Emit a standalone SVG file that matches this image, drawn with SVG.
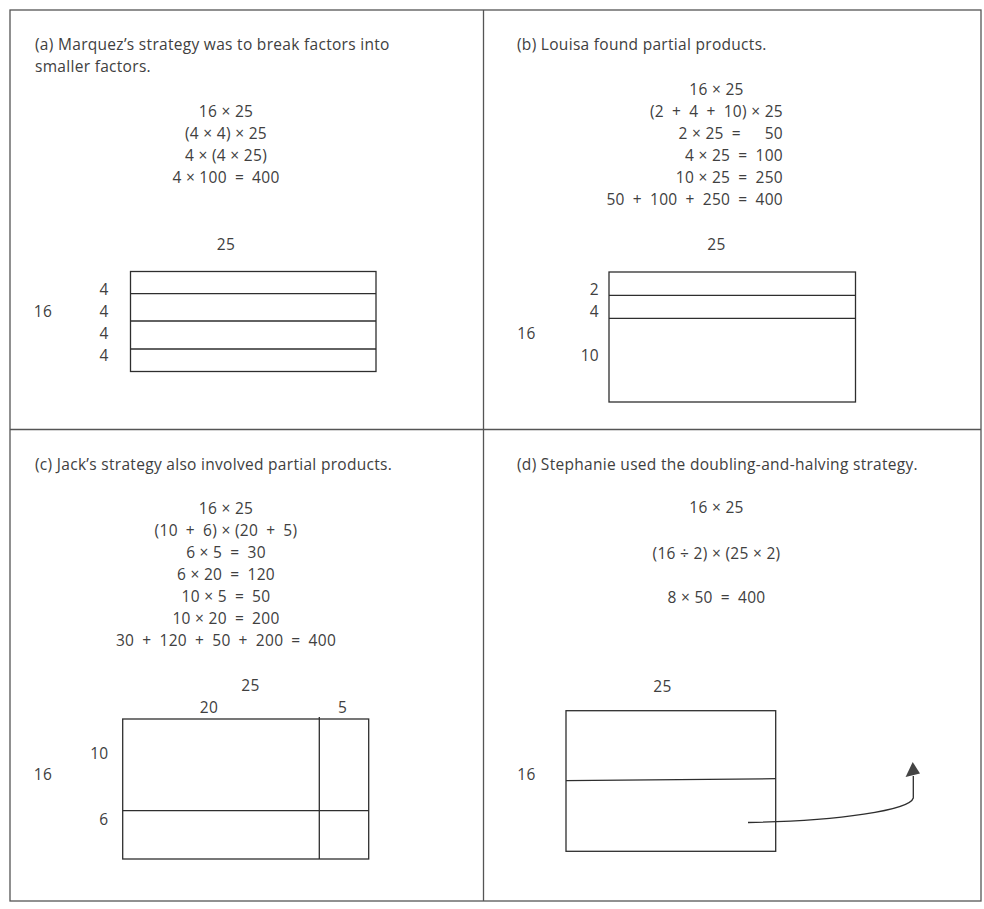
<svg xmlns="http://www.w3.org/2000/svg" width="984" height="909" viewBox="0 0 984 909">
<style>
text{font-family:"Open Sans","Noto Sans","Liberation Sans",sans-serif;font-size:15.5px;letter-spacing:0.3px;fill:#404040}
.m{text-anchor:middle}
.e{text-anchor:end}
.frame{fill:none;stroke:#555;stroke-width:1.3}
.box{fill:none;stroke:#2e2e2e;stroke-width:1.3}
.ln{stroke:#2e2e2e;stroke-width:1.3;fill:none}
</style>
<rect width="984" height="909" fill="#fff"/>
<g id="frame">
<rect class="frame" x="10" y="10" width="971" height="891"/>
<line class="frame" x1="483.5" y1="10" x2="483.5" y2="901"/>
<line class="frame" x1="10" y1="429.5" x2="981" y2="429.5"/>
</g>
<g id="panel-a">
<text x="35" y="50">(a) Marquez’s strategy was to break factors into</text>
<text x="35" y="72">smaller factors.</text>
<text class="m" x="226" y="117">16 × 25</text>
<text class="m" x="226" y="139">(4 × 4) × 25</text>
<text class="m" x="226" y="161">4 × (4 × 25)</text>
<text class="m" x="226" y="183">4 × 100&#8194;=&#8194;400</text>
<text class="m" x="226" y="250">25</text>
<rect class="box" x="130.5" y="271.5" width="245.5" height="100"/>
<line class="ln" x1="130.5" y1="293.7" x2="376" y2="293.7"/>
<line class="ln" x1="130.5" y1="321" x2="376" y2="321"/>
<line class="ln" x1="130.5" y1="349" x2="376" y2="349"/>
<text class="m" x="104" y="295">4</text>
<text class="m" x="104" y="317">4</text>
<text class="m" x="104" y="339">4</text>
<text class="m" x="104" y="361">4</text>
<text class="m" x="43" y="317">16</text>
</g>
<g id="panel-b">
<text x="517" y="50">(b) Louisa found partial products.</text>
<text class="m" x="716.5" y="95">16 × 25</text>
<text class="e" x="783" y="117">(2&#8194;+&#8194;4&#8194;+&#8194;10) × 25</text>
<text class="e" x="741" y="139">2 × 25&#8194;=</text>
<text class="e" x="783" y="139">50</text>
<text class="e" x="783" y="161">4 × 25&#8194;=&#8194;100</text>
<text class="e" x="783" y="183">10 × 25&#8194;=&#8194;250</text>
<text class="e" x="783" y="205">50&#8194;+&#8194;100&#8194;+&#8194;250&#8194;=&#8194;400</text>
<text class="m" x="716.5" y="250">25</text>
<rect class="box" x="609" y="272" width="246.5" height="130"/>
<line class="ln" x1="609" y1="295.3" x2="855.5" y2="295.3"/>
<line class="ln" x1="609" y1="318.3" x2="855.5" y2="318.3"/>
<text class="e" x="599" y="295">2</text>
<text class="e" x="599" y="317">4</text>
<text class="e" x="599" y="361">10</text>
<text class="m" x="526.5" y="339">16</text>
</g>
<g id="panel-c">
<text x="35" y="470">(c) Jack’s strategy also involved partial products.</text>
<text class="m" x="226" y="514">16 × 25</text>
<text class="m" x="226" y="536">(10&#8194;+&#8194;6) × (20&#8194;+&#8194;5)</text>
<text class="m" x="226" y="558">6 × 5&#8194;=&#8194;30</text>
<text class="m" x="226" y="580">6 × 20&#8194;=&#8194;120</text>
<text class="m" x="226" y="602">10 × 5&#8194;=&#8194;50</text>
<text class="m" x="226" y="624">10 × 20&#8194;=&#8194;200</text>
<text class="m" x="226" y="646">30&#8194;+&#8194;120&#8194;+&#8194;50&#8194;+&#8194;200&#8194;=&#8194;400</text>
<text class="m" x="250.5" y="691">25</text>
<text class="m" x="209" y="713">20</text>
<text class="m" x="342.5" y="713">5</text>
<rect class="box" x="122.7" y="719" width="246" height="140"/>
<line class="ln" x1="319.3" y1="717" x2="319.3" y2="859"/>
<line class="ln" x1="122.7" y1="810.7" x2="368.7" y2="810.7"/>
<text class="e" x="108.5" y="759">10</text>
<text class="e" x="108.5" y="825">6</text>
<text class="m" x="43" y="780">16</text>
</g>
<g id="panel-d">
<text x="517" y="470">(d) Stephanie used the doubling-and-halving strategy.</text>
<text class="m" x="716.5" y="513">16 × 25</text>
<text class="m" x="716.5" y="559">(16 ÷ 2) × (25 × 2)</text>
<text class="m" x="716.5" y="603">8 × 50&#8194;=&#8194;400</text>
<text class="m" x="662.5" y="692">25</text>
<rect class="box" x="566" y="710.7" width="209.7" height="140.6"/>
<line class="ln" x1="566" y1="780.7" x2="775.7" y2="778.7"/>
<text class="m" x="526.5" y="780">16</text>
</g>
<g id="connectors">
<path class="ln" d="M748,822.5 C840,821 910,810 913.3,798 L913.3,776"/>
<polygon points="912.7,762 920,773.6 905.6,777" fill="#444"/>
</g>
</svg>
